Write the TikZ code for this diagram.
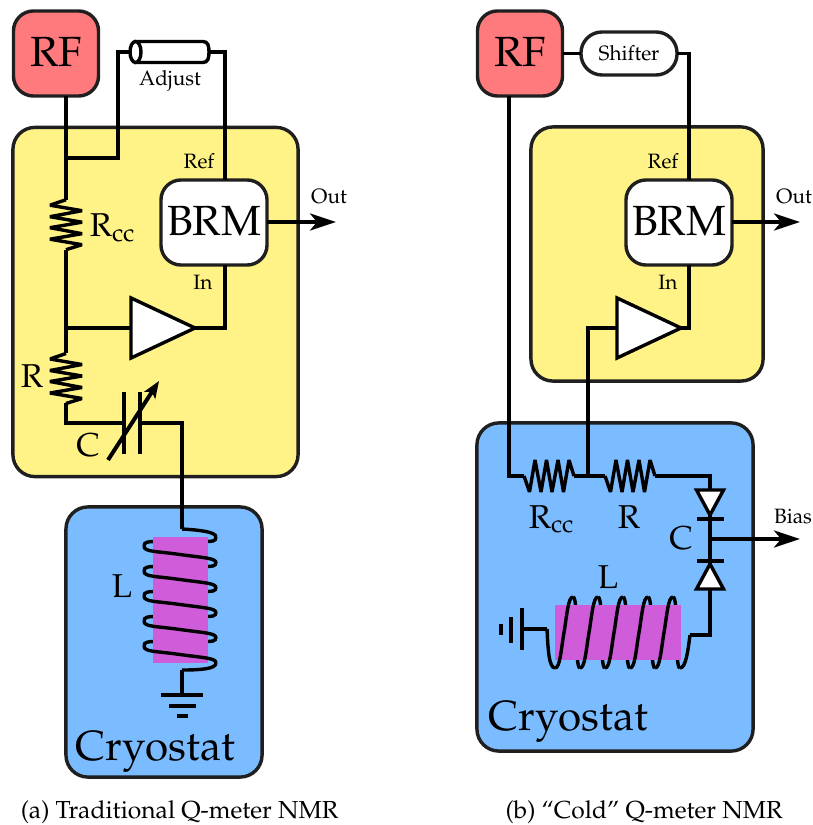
\documentclass[tikz,border=0pt]{standalone}
\usepackage[T1]{fontenc}
\usepackage{mathpazo}
\usetikzlibrary{arrows.meta,shapes.geometric,positioning}

\definecolor{rfred}{HTML}{FF7A7C}
\definecolor{boxyellow}{HTML}{FFF387}
\definecolor{cryoblue}{HTML}{7ABCFF}
\definecolor{corepink}{HTML}{CF5CD9}

\tikzset{
  wire/.style={line width=0.034cm,line join=miter},
  panel/.style={draw=black!88,line width=0.034cm,rounded corners=0.22cm,inner sep=0,outer sep=0},
  block/.style={panel,rounded corners=0.2cm,fill=white,text depth=0.04cm,font=\fontsize{12}{14}\selectfont},
  bigtext/.style={anchor=base,inner sep=0,font=\fontsize{12}{14}\selectfont},
  parttext/.style={anchor=base,inner sep=0,font=\fontsize{9.4}{11}\selectfont},
  smalltext/.style={anchor=base,inner sep=0,font=\fontsize{5.9}{7}\selectfont},
  captext/.style={anchor=base,inner sep=0,font=\fontsize{7}{8}\selectfont},
  amp/.style={draw,fill=white,line width=0.034cm,isosceles triangle,isosceles triangle stretches,
    inner sep=0,outer sep=0,minimum width=0.6cm,minimum height=0.64cm},
  diode/.style={amp,minimum width=0.27cm,minimum height=0.25cm},
  core/.style={fill=corepink,inner sep=0,outer sep=0},
  outarrow/.style={wire,-{Stealth[length=0.26cm,width=0.17cm,inset=0.07cm]}},
  pics/zigzag/.style={code={
    \draw[wire,rounded corners=0.4pt] (-25,0) -- (-19.5,16) -- (-14,-16) -- (-8,16) -- (-2.5,-16)
      -- (3,16) -- (9,-16) -- (14.5,16) -- (20,-16) -- (25,0);
    \coordinate (-in) at (-25,0);
    \coordinate (-out) at (25,0);
  }}
}

\begin{document}
\begin{tikzpicture}[x=0.01cm,y=-0.01cm]
  \useasboundingbox (0,0) rectangle (813,825);

  % (a) traditional
  \node[panel,fill=boxyellow,minimum width=2.85cm,minimum height=3.49cm] (meteraa) at (155.5,302) {};
  \node[panel,fill=cryoblue,minimum width=1.96cm,minimum height=2.7cm] (cryoa) at (164,642) {};
  \node[block,fill=rfred,minimum width=0.85cm,minimum height=0.85cm] (rfa) at (56,53.5) {RF};
  \node[block,minimum width=1.06cm,minimum height=0.85cm] (brma) at (214,222.5) {BRM};
  \node[amp,anchor=west] (ampa) at (131,328) {};

  \coordinate (cablel) at (130,52);
  \coordinate (cabler) at (209,52);
  \coordinate (tapa) at (66,158);
  \pic (rcca) [rotate=-90] at (66,224.7) {zigzag};
  \pic (ra) [rotate=-90] at (66,378.5) {zigzag};
  \coordinate (junca) at (66,328);
  \coordinate (capl) at (124,423);
  \coordinate (capr) at (140,423);
  \coordinate (capturn) at (182,423);
  \coordinate (coilin) at (182,529);
  \coordinate (coilout) at (182,670);
  \coordinate (gnda) at (182,695);
  \coordinate (outa) at (336,222);
  \coordinate (refa) at (225,180);

  \draw[wire] (rfa.south -| tapa) -- (rcca-in);
  \draw[wire] (tapa) -| (118,52) -- (cablel);
  \draw[wire] (cabler) -| (refa);
  \draw[wire] (rcca-out) -- (ra-in);
  \draw[wire] (junca) -- (ampa.west);
  \draw[wire] (ampa.east) -| (brma.south -| refa);
  \draw[wire] (ra-out) |- (capl);
  \draw[wire] (capr) -- (capturn) -- (coilin);
  \draw[wire] (coilout) -- (gnda);
  \draw[outarrow] (brma.east |- outa) -- (outa);

  % coax line
  \draw[wire,fill=white] (135.5,41.5) -- (203,41.5) .. controls (208,41.5) and (209,46) .. (cabler)
    .. controls (209,58) and (208,62.5) .. (203,62.5) -- (135.5,62.5) -- cycle;
  \draw[wire,fill=white] (135.5,52) ellipse [x radius=5.5,y radius=10.5];

  % plates and trimmer arrow
  \draw[wire] (124,392) -- (124,454);
  \draw[wire] (140,392) -- (140,454);
  \draw[line width=0.04cm,-{Stealth[length=0.17cm,width=0.13cm,inset=0.04cm]}] (108,460) -- (159,381);

  \draw[wire] (161,695) -- (203,695);
  \draw[wire] (169,706) -- (196,706);
  \draw[wire] (177,716) -- (188,716);

  % coil, the back turns go under the core
  \foreach \y in {537,562,587,612,637}
    \draw[wire] (216,\y) .. controls (216,\y+4.5) and (212,\y+4.5) .. (205,\y+4.5) -- (155,\y+4.5)
      .. controls (148,\y+4.5) and (144,\y+5) .. (144,\y+9);
  \node[core,minimum width=0.55cm,minimum height=1.26cm] (corea) at (180.5,600) {};
  \draw[wire] (coilin) .. controls (200,530) and (216,532) .. (216,537);
  \foreach \y in {546,571,596,621,646}
    \draw[wire] (144,\y) .. controls (144,\y+6) and (155,\y+5) .. (180,\y+8.5)
      .. controls (205,\y+12) and (216,\y+12) .. (216,\y+17);
  \draw[wire] (216,663) .. controls (216,669) and (200,670) .. (coilout);

  \node[smalltext] (adjust) at (170,86) {Adjust};
  \node[smalltext] (reflaba) at (199,169) {Ref};
  \node[smalltext] (inlaba) at (203,290) {In};
  \node[smalltext] (outlaba) at (329,204) {Out};
  \node[parttext] (rcclaba) at (113,237) {R$_{\mathrm{cc}}$};
  \node[parttext] (rlaba) at (32,388) {R};
  \node[parttext] (clab) at (88,456) {C};
  \node[parttext] (llaba) at (122,597) {L};
  \node[bigtext] (cryolaba) at (155.5,760) {Cryostat};
  \node[captext] (capa) at (179.5,818) {(a) Traditional Q-meter NMR};

  % (b) cold
  \node[panel,fill=boxyellow,minimum width=2.32cm,minimum height=2.54cm] (meterb) at (647,254) {};
  \node[panel,fill=cryoblue,minimum width=2.76cm,minimum height=3.28cm] (cryob) at (615,587) {};
  \node[block,fill=rfred,minimum width=0.85cm,minimum height=0.85cm] (rfb) at (520,53.5) {RF};
  \node[block,minimum width=1.06cm,minimum height=0.85cm] (brmb) at (679,222.5) {BRM};
  \node[amp,anchor=west] (ampb) at (617,328) {};
  \node[block,rounded corners=0.21cm,text depth=0cm,minimum width=0.96cm,minimum height=0.43cm,font=\fontsize{5.9}{7}\selectfont] (shifter) at (629,53.5) {Shifter};
  \node[diode,anchor=west,rotate=-90] (varup) at (710,490) {};
  \node[diode,anchor=west,rotate=90] (vardown) at (710,589) {};

  \pic (rccb) at (549,476) {zigzag};
  \pic (rb) at (630,476) {zigzag};
  \coordinate (juncb) at (588,476);
  \coordinate (biasb) at (710,539);
  \coordinate (biasout) at (800,539);
  \coordinate (outb) at (800,222);
  \coordinate (refb) at (689,180);
  \coordinate (gndb) at (522,629);
  \coordinate (coilbin) at (547,629);
  \coordinate (coilbout) at (690,635);

  \draw[wire] (rfb.south -| 509,0) |- (rccb-in);
  \draw[wire] (rfb.east) -- (shifter.west);
  \draw[wire] (shifter.east) -| (refb);
  \draw[wire] (rccb-out) -- (rb-in);
  \draw[wire] (juncb) |- (ampb.west);
  \draw[wire] (ampb.east) -| (brmb.south -| refb);
  \draw[wire] (rb-out) -| (varup.west);
  \draw[wire] (varup.east) -- (vardown.east);
  \draw[wire] (vardown.west) |- (coilbout);
  \draw[wire] (gndb) -- (coilbin);
  \draw[outarrow] (brmb.east |- outb) -- (outb);
  \draw[outarrow] (biasb) -- (biasout);

  \draw[wire] (697,519) -- (724,519);
  \draw[wire] (697,561) -- (724,561);
  \draw[wire] (522,608) -- (522,650);
  \draw[wire] (511,617) -- (511,643);
  \draw[wire] (501,624) -- (501,635);

  \foreach \x in {573,598,623,648,673}
    \draw[wire] (\x,597) .. controls (\x+6,597) and (\x+1,668) .. (\x+7,668);
  \node[core,minimum width=1.26cm,minimum height=0.55cm] (coreb) at (618,632.5) {};
  \draw[wire] (coilbin) .. controls (548,650) and (549,668) .. (555,668);
  \foreach \x in {555,580,605,630,655}
    \draw[wire] (\x,668) .. controls (\x+5,668) and (\x+6,650) .. (\x+9,632.5)
      .. controls (\x+12,615) and (\x+13,597) .. (\x+18,597);
  \draw[wire] (680,668) .. controls (686,668) and (688,650) .. (coilbout);

  \node[smalltext] (reflabb) at (663,169) {Ref};
  \node[smalltext] (inlabb) at (668,290) {In};
  \node[smalltext] (outlabb) at (794,204) {Out};
  \node[smalltext] (biaslab) at (793,523) {Bias};
  \node[parttext] (rcclabb) at (552,528) {R$_{\mathrm{cc}}$};
  \node[parttext] (rlabb) at (629,528) {R};
  \node[parttext] (clabb) at (681,549) {C};
  \node[parttext] (llabb) at (608,588) {L};
  \node[bigtext] (cryolabb) at (568.5,730) {Cryostat};
  \node[captext] (capb) at (644,818) {(b) ``Cold'' Q-meter NMR};
\end{tikzpicture}
\end{document}
